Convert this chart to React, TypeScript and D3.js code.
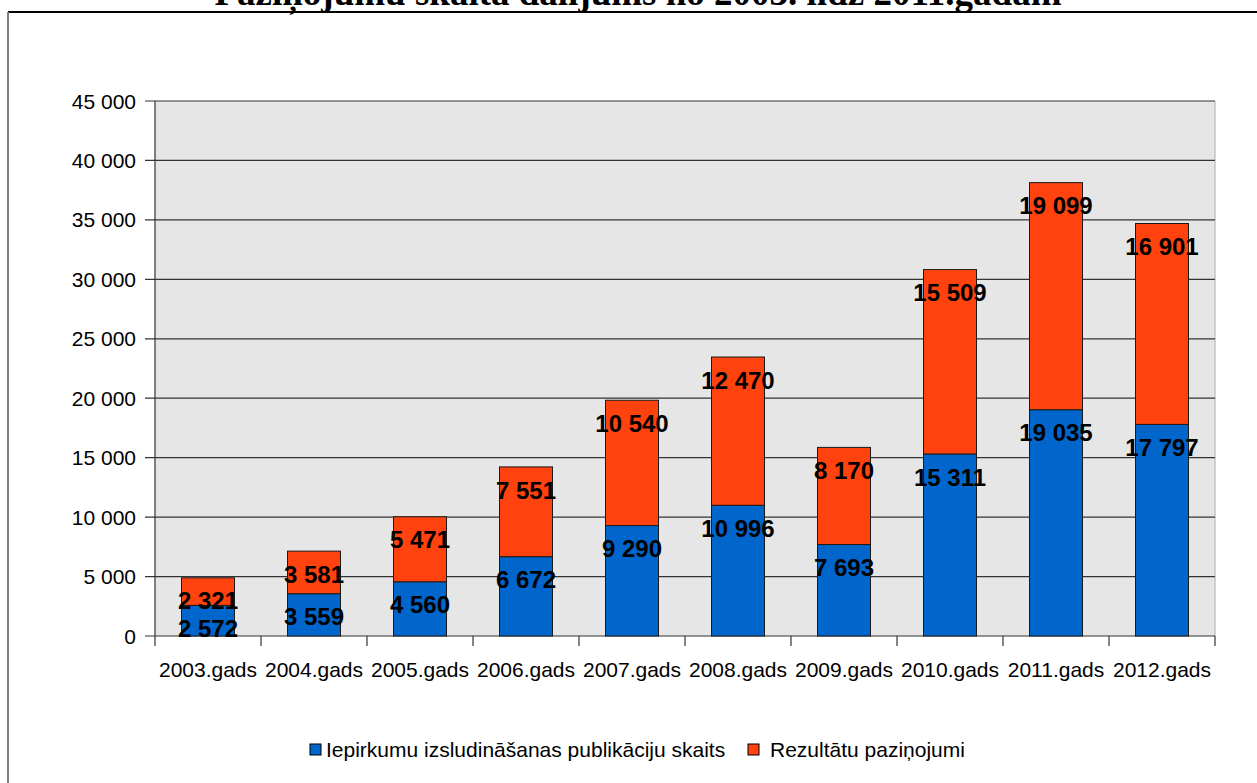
import React from "react";
import * as d3 from "d3";

const categories = ["2003.gads", "2004.gads", "2005.gads", "2006.gads", "2007.gads", "2008.gads", "2009.gads", "2010.gads", "2011.gads", "2012.gads"];
const publications = [2572, 3559, 4560, 6672, 9290, 10996, 7693, 15311, 19035, 17797];
const results = [2321, 3581, 5471, 7551, 10540, 12470, 8170, 15509, 19099, 16901];
const yTicks = [0, 5000, 10000, 15000, 20000, 25000, 30000, 35000, 40000, 45000];
const seriesNames = ["Iepirkumu izsludināšanas publikāciju skaits", "Rezultātu paziņojumi"];
const title = "Paziņojumu skaita dalījums no 2003. līdz 2011.gadam";

const W = 1257, H = 783;
const plot = { left: 155, right: 1215, top: 101, bottom: 636 };
const BLUE = "#0066cc";
const ORANGE = "#ff420e";

const fmt = (v: number) => {
  const s = String(v);
  return s.replace(/\B(?=(\d{3})+(?!\d))/g, " ");
};

export default function App() {
  const x = d3.scaleBand<string>().domain(categories).range([plot.left, plot.right]).paddingInner(0.5).paddingOuter(0.25);
  const y = d3.scaleLinear().domain([0, 45000]).range([plot.bottom, plot.top]);
  const band = d3.scaleBand<string>().domain(categories).range([plot.left, plot.right]);
  const font = "'Liberation Sans', Arial, sans-serif";

  const stacked = categories.map((c, i) => {
    const b0 = 0, b1 = publications[i];
    const o0 = b1, o1 = b1 + results[i];
    return { c, segs: [
      { v: publications[i], y0: b0, y1: b1, color: BLUE },
      { v: results[i], y0: o0, y1: o1, color: ORANGE },
    ] };
  });

  return (
    <svg width={W} height={H} style={{ position: "absolute", left: 0, top: 0, background: "#fff" }}>
      <rect x={0} y={0} width={W} height={H} fill="#fff" />
      <text x={638} y={5} textAnchor="middle" fontFamily="'Liberation Serif', 'Times New Roman', serif" fontWeight="bold" fontSize={37} fill="#000">{title}</text>
      <line x1={8} x2={W} y1={12} y2={12} stroke="#000" strokeWidth={2} />
      <line x1={8} x2={8} y1={12} y2={H} stroke="#808080" strokeWidth={2} />

      <rect x={plot.left} y={plot.top} width={plot.right - plot.left} height={plot.bottom - plot.top} fill="#e6e6e6" />
      <line x1={plot.right} x2={plot.right} y1={plot.top} y2={plot.bottom} stroke="#c4c4c4" strokeWidth={1.5} />
      {yTicks.map((t) => (
        <g key={t}>
          <line x1={plot.left - 10} x2={plot.right} y1={y(t)} y2={y(t)} stroke="#333" strokeWidth={1.2} />
          <text x={136} y={y(t)} dy="0.36em" textAnchor="end" fontFamily={font} fontSize={21} fill="#000">{fmt(t)}</text>
        </g>
      ))}
      <line x1={plot.left} x2={plot.left} y1={plot.top} y2={plot.bottom} stroke="#333" strokeWidth={1.2} />
      {categories.map((c) => (
        <line key={c} x1={band(c)!} x2={band(c)!} y1={plot.bottom} y2={plot.bottom + 10} stroke="#333" strokeWidth={1.2} />
      ))}
      <line x1={plot.right} x2={plot.right} y1={plot.bottom} y2={plot.bottom + 10} stroke="#333" strokeWidth={1.2} />

      {stacked.map((d) => (
        <g key={d.c}>
          {d.segs.map((s, j) => (
            <rect key={j} x={x(d.c)!} width={x.bandwidth()} y={y(s.y1)} height={y(s.y0) - y(s.y1)} fill={s.color} stroke="#1a1a1a" strokeWidth={1} />
          ))}
        </g>
      ))}
      {stacked.map((d) => (
        <g key={d.c + "l"}>
          {d.segs.map((s, j) => (
            <text key={j} x={x(d.c)! + x.bandwidth() / 2} y={y(s.y1) + 23} dy="0.36em" textAnchor="middle" fontFamily={font} fontWeight="bold" fontSize={24} fill="#000">{fmt(s.v)}</text>
          ))}
        </g>
      ))}

      {categories.map((c) => (
        <text key={c} x={band(c)! + band.bandwidth() / 2} y={677} textAnchor="middle" fontFamily={font} fontSize={21} fill="#000">{c}</text>
      ))}

      <rect x={310} y={744} width={11} height={11} fill={BLUE} stroke="#000" strokeWidth={1} />
      <text x={326} y={757} fontFamily={font} fontSize={21} fill="#000">{seriesNames[0]}</text>
      <rect x={748} y={744} width={11} height={11} fill={ORANGE} stroke="#000" strokeWidth={1} />
      <text x={770} y={757} fontFamily={font} fontSize={21} fill="#000">{seriesNames[1]}</text>
    </svg>
  );
}
